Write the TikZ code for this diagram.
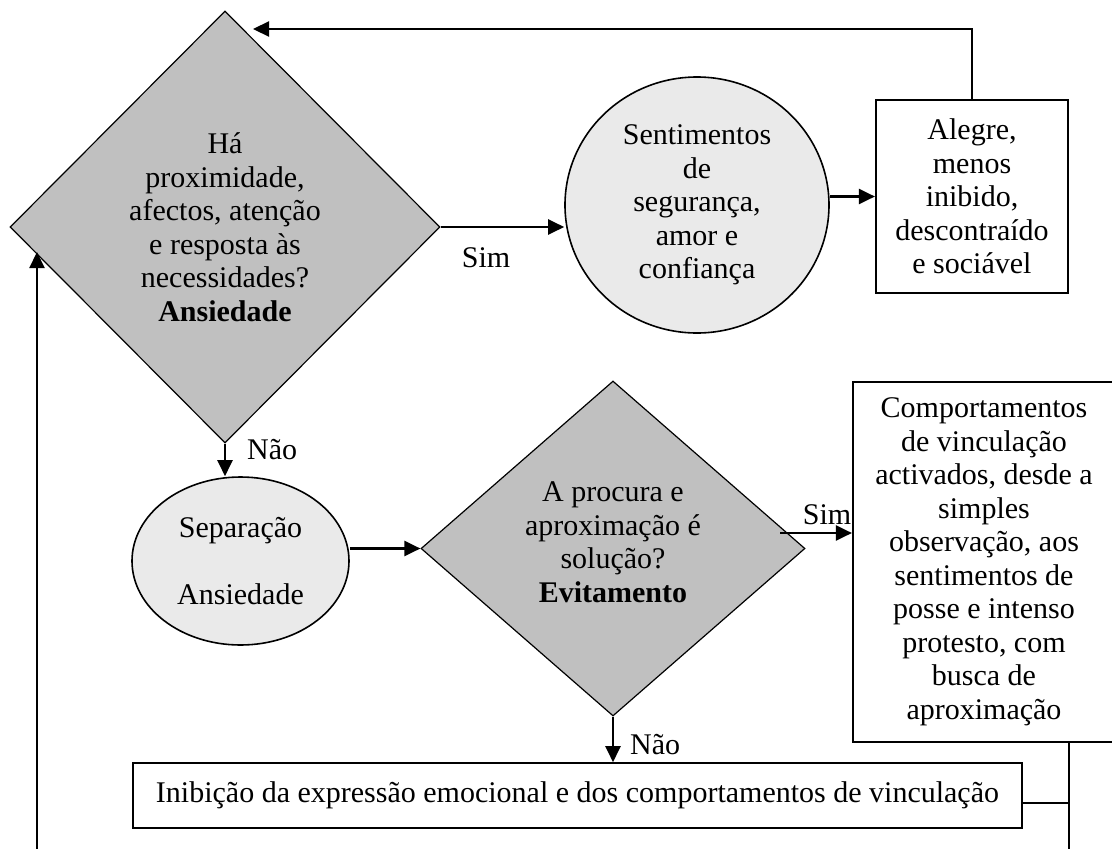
\documentclass[tikz,border=0pt]{standalone}
\usepackage{fontspec}
\setmainfont{Liberation Serif}
\usetikzlibrary{shapes.geometric,arrows.meta}
\definecolor{dgray}{HTML}{C0C0C0}
\definecolor{lgray}{HTML}{EAEAEA}
\begin{document}
\begin{tikzpicture}[x=1pt,y=-1pt,
  every node/.style={font=\fontsize{30}{33.5}\selectfont, align=center, inner sep=0pt},
  decision/.style={diamond, draw, fill=dgray, line width=1.2pt},
  bubble/.style={ellipse, draw, fill=lgray, line width=1.6pt},
  panel/.style={rectangle, draw, line width=2.2pt},
  arr/.style={line width=2.2pt, -{Triangle[length=16pt,width=15pt]}},
  ln/.style={line width=2.2pt}]
\useasboundingbox (0,0) rectangle (1112,849);
\clip (0,0) rectangle (1112,849);

\node[decision, minimum width=430pt, minimum height=432pt] (d1) at (225,227)
  {Há\\proximidade,\\afectos, atenção\\e resposta às\\necessidades?\\\textbf{Ansiedade}};
\node[bubble, minimum width=264pt, minimum height=256pt] (sent) at (697,205)
  {Sentimentos\\de\\segurança,\\amor e\\confiança};
\node[panel, minimum width=192pt, minimum height=193pt] (alegre) at (972,196.5)
  {Alegre,\\menos\\inibido,\\descontraído\\e sociável};
\node[bubble, minimum width=217pt, minimum height=168pt] (sep) at (240.5,561)
  {Separação\\[33.5pt]Ansiedade};
\node[decision, minimum width=384pt, minimum height=335pt] (d2) at (613,548.5) {};
\node (d2text) at (613,542) {A procura e\\aproximação é\\solução?\\\textbf{Evitamento}};
\node[panel, minimum width=262pt, minimum height=360pt] (comp) at (984,562)
  {Comportamentos\\de vinculação\\activados, desde a\\simples\\observação, aos\\sentimentos de\\posse e intenso\\protesto, com\\busca de\\aproximação};
\node[panel, line width=1.6pt, minimum width=889pt, minimum height=65pt] (inib) at (577.5,795.5)
  {Inibição da expressão emocional e dos comportamentos de vinculação};

\coordinate (topend) at (253,29);
\coordinate (leftend) at (37,252);
\coordinate (botL) at (37,852);
\coordinate (botR) at (1069,852);
\coordinate (simstart) at (780,533);

\draw[arr] (d1.east) -- (d1.east -| sent.west);
\node (sim1) at (486,258) {Sim};
\draw[arr] (sent.east |- alegre.west) -- (alegre.west);
\draw[arr] (alegre.north) |- (topend);
\draw[arr] (d1.south) -- (d1.south |- sep.north);
\node[anchor=west] (nao1) at (247,450) {Não};
\draw[arr] (sep.east |- d2.west) -- (d2.west);
\draw[arr] (simstart) -- (simstart -| comp.west);
\node (sim2) at (827,515) {Sim};
\draw[arr] (d2.south) -- (d2.south |- inib.north);
\node[anchor=west] (nao2) at (630,745) {Não};
\draw[ln] (comp.south -| botR) -- (botR);
\draw[ln] ([yshift=-7.5pt]inib.east) -- ([yshift=-7.5pt]inib.east -| botR);
\draw[arr] (botL) -- (leftend);
\end{tikzpicture}
\end{document}
